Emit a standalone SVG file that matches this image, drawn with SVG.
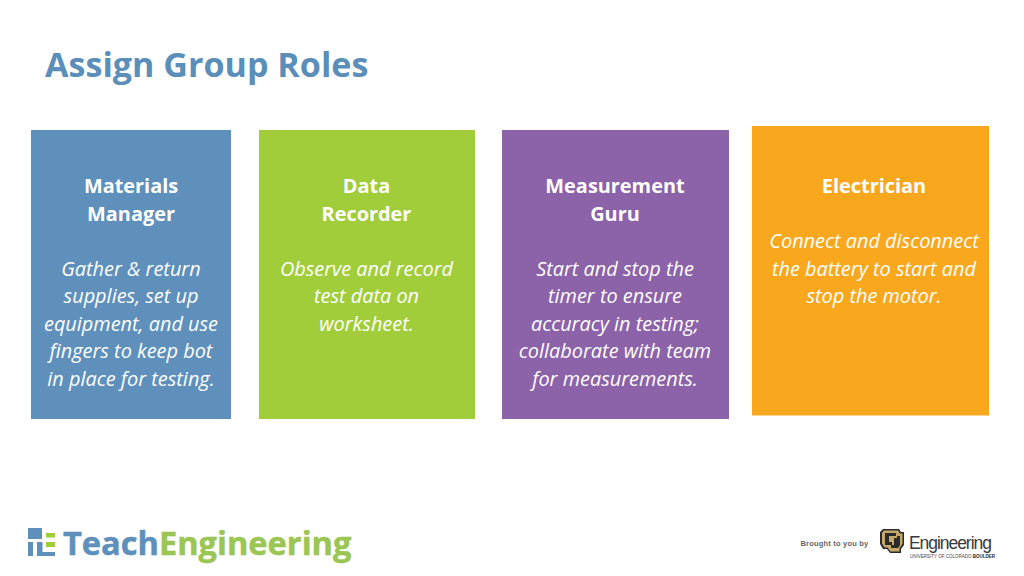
<svg xmlns="http://www.w3.org/2000/svg" width="1024" height="576" viewBox="0 0 1024 576">
<style>
text{font-family:"Open Sans","Noto Sans","Liberation Sans",sans-serif;text-anchor:middle}
.h{font-size:19.900px;font-weight:700;fill:#fff}
.b{font-size:19.900px;font-style:italic;fill:#fff}
</style>
<rect width="1024" height="576" fill="#fff"/>
<text id="title" x="45" y="77" style="text-anchor:start;font-size:34.100px;font-weight:700;fill:#5b8fba">Assign Group Roles</text>
<g id="materials-manager"><rect x="31" y="130" width="200" height="289" fill="#5e90bb"/>
<text class="h" x="131" y="193">Materials</text><text class="h" x="131" y="221">Manager</text>
<text class="b" x="131" y="276">Gather &amp; return</text><text class="b" x="131" y="303">supplies, set up</text><text class="b" x="131" y="331">equipment, and use</text><text class="b" x="131" y="358">fingers to keep bot</text><text class="b" x="131" y="386">in place for testing.</text></g>
<g id="data-recorder"><rect x="259" y="130" width="216" height="289" fill="#a1cd3a"/>
<text class="h" x="366.500" y="193">Data</text><text class="h" x="366.500" y="221">Recorder</text>
<text class="b" x="366.500" y="276">Observe and record</text><text class="b" x="366.500" y="303">test data on</text><text class="b" x="366.500" y="331">worksheet.</text></g>
<g id="measurement-guru"><rect x="502" y="130" width="227" height="289" fill="#8c62a9"/>
<text class="h" x="615" y="193">Measurement</text><text class="h" x="615" y="221">Guru</text>
<text class="b" x="615" y="276">Start and stop the</text><text class="b" x="615" y="303">timer to ensure</text><text class="b" x="615" y="331">accuracy in testing;</text><text class="b" x="615" y="358">collaborate with team</text><text class="b" x="615" y="386">for measurements.</text></g>
<g id="electrician"><rect x="752" y="126" width="237" height="289.500" fill="#f9a81e"/>
<text class="h" x="874" y="193">Electrician</text>
<text class="b" x="874" y="248">Connect and disconnect</text><text class="b" x="874" y="276">the battery to start and</text><text class="b" x="874" y="303">stop the motor.</text></g>
<g id="teachengineering-logo">
<path d="M28 528h14v5h0v6h-14z" fill="#5e90bb"/>
<rect x="28" y="542" width="5" height="14" fill="#5e90bb"/><rect x="37" y="542" width="5.500" height="14" fill="#5e90bb"/>
<rect x="42" y="552" width="13" height="4" fill="#5e90bb"/>
<rect x="46" y="533" width="9" height="4.500" fill="#a1cd3a"/><rect x="46" y="542" width="9" height="5" fill="#a1cd3a"/>
<text x="63" y="555" style="text-anchor:start;font-size:32.600px;font-weight:700;fill:#5e90bb;stroke:#5e90bb;stroke-width:.5px">Teach<tspan fill="#9bc653" stroke="#9bc653">Engineering</tspan></text>
</g>
<g id="cu-logo">
<text x="834.500" y="546" style="font-family:'Liberation Sans',sans-serif;font-size:7.500px;font-weight:700;fill:#666;letter-spacing:.2px">Brought to you by</text>
<path d="M883 529h16l2 3h3v13l-3 4v4h-11l-3-4h-4l-3-5v-12z" fill="#2b2b2b"/>
<path d="M884 530.500h14l2 3h2.500v10.500l-3 4v3.500h-9l-3-4h-3l-2.500-4v-10.500z" fill="#c4a96a"/>
<path d="M885 533h11v3h-7v6h3v3h-7zM894 538h3v-2h3v9l-2 3h-7v-3h3v-1h0z" fill="#2b2b2b"/>
<text x="909" y="549" style="font-family:'Liberation Sans',sans-serif;text-anchor:start;font-size:17.500px;fill:#3a3a3a;letter-spacing:-1.050px">Engineering</text>
<text x="910" y="557.500" style="font-family:'Liberation Sans',sans-serif;text-anchor:start;font-size:4.500px;fill:#444">UNIVERSITY OF COLORADO <tspan font-weight="700" fill="#222">BOULDER</tspan></text>
</g>
</svg>
